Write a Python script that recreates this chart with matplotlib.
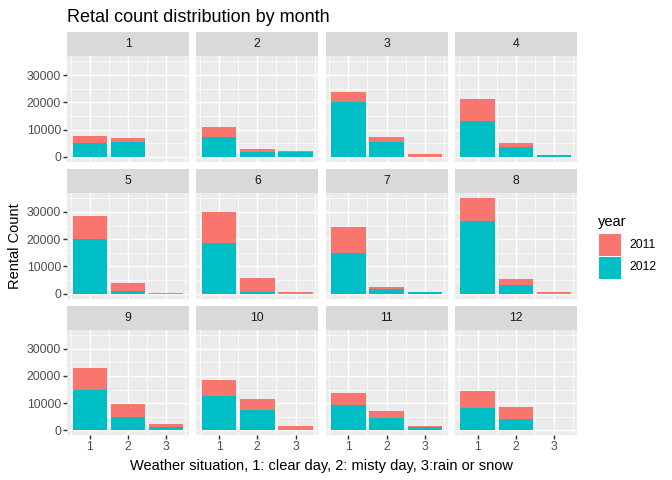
import numpy as np
import matplotlib.pyplot as plt

plt.rcParams['font.family'] = ['Liberation Sans', 'DejaVu Sans']

months = list(range(1, 13))
weather = [1, 2, 3]
years = ['2011', '2012']
colors = {'2011': '#F8766D', '2012': '#00BFC4'}

# rental counts per month (rows) and weather situation (columns)
cnt_2012 = [
    [5100, 5600, 0],
    [7300, 1950, 1950],
    [20200, 5500, 0],
    [13100, 3650, 730],
    [20200, 1100, 0],
    [18500, 730, 0],
    [14800, 1850, 490],
    [26600, 3050, 0],
    [14750, 4840, 1200],
    [12800, 7700, 0],
    [9200, 4600, 1200],
    [8200, 4100, 0],
]
cnt_2011 = [
    [2550, 1300, 0],
    [3600, 950, 350],
    [3500, 1800, 1100],
    [8000, 1450, 0],
    [8400, 2900, 400],
    [11600, 5170, 730],
    [9800, 750, 0],
    [8650, 2450, 490],
    [8250, 5060, 1100],
    [5800, 3700, 1570],
    [4700, 2400, 370],
    [6400, 4360, 0],
]

W, H = 672, 480
fig = plt.figure(figsize=(W / 100, H / 100), dpi=100)

def px(x, y, w, h):
    return [x / W, 1 - (y + h) / H, w / W, h / H]

totals = np.array(cnt_2012) + np.array(cnt_2011)
ymax = totals.max()
pad = ymax * 0.05
ylim = (-pad, ymax + pad)
xlim = (0.55 - 0.145, 3.45 + 0.145)

col_left = [67, 196.3, 325.6, 454.9]
row_top = [32, 168.8, 305.6]
pw, strip_h, ph = 122, 24, 105.7

for i, m in enumerate(months):
    r, c = divmod(i, 4)
    x0, y0 = col_left[c], row_top[r]
    # strip
    sax = fig.add_axes(px(x0, y0, pw, strip_h))
    sax.set_facecolor('#D9D9D9')
    sax.set_xticks([]); sax.set_yticks([])
    for s in sax.spines.values():
        s.set_visible(False)
    sax.text(0.5, 0.5, str(m), ha='center', va='center', fontsize=8.8,
             color='#1A1A1A', transform=sax.transAxes)
    # panel
    ax = fig.add_axes(px(x0, y0 + strip_h, pw, ph))
    ax.set_facecolor('#EBEBEB')
    for s in ax.spines.values():
        s.set_visible(False)
    ax.set_xlim(*xlim); ax.set_ylim(*ylim)
    ax.set_xticks(weather)
    ax.set_xticks([0.5, 1.5, 2.5, 3.5], minor=True)
    ax.set_yticks([0, 10000, 20000, 30000])
    ax.set_yticks([5000, 15000, 25000, 35000], minor=True)
    ax.grid(which='major', color='white', lw=1.02)
    ax.grid(which='minor', color='white', lw=0.51)
    ax.set_axisbelow(True)
    ax.tick_params(which='minor', length=0)
    ax.tick_params(which='major', length=2.6, width=1.02, color='#333333',
                   labelsize=8.8, labelcolor='#4D4D4D', pad=1.8)
    if c != 0:
        ax.tick_params(axis='y', length=0, labelleft=False)
    if r != 2:
        ax.tick_params(axis='x', length=0, labelbottom=False)
    b12 = np.array(cnt_2012[i])
    b11 = np.array(cnt_2011[i])
    ax.bar(weather, b12, width=0.9, color=colors['2012'], lw=0)
    ax.bar(weather, b11, width=0.9, bottom=b12, color=colors['2011'], lw=0)

fig.text(67 / W, 1 - 17 / H, 'Retal count distribution by month', fontsize=13,
         ha='left', va='center', color='black')
fig.text(15 / W, 1 - 246 / H, 'Rental Count', rotation=90, fontsize=10.56,
         ha='center', va='center')
fig.text(322 / W, 1 - 466 / H,
         'Weather situation, 1: clear day, 2: misty day, 3:rain or snow',
         fontsize=10.56, ha='center', va='center')

# legend
fig.text(598 / W, 1 - 222 / H, 'year', fontsize=10.56, ha='left', va='center')
for k, yr in enumerate(years):
    ky = 234 + k * 22.5
    lax = fig.add_axes(px(599, ky, 22, 22))
    lax.set_facecolor(colors[yr])
    lax.set_xticks([]); lax.set_yticks([])
    for s in lax.spines.values():
        s.set_visible(False)
    fig.text(629 / W, 1 - (ky + 11) / H, yr, fontsize=8.8, ha='left', va='center')

fig.savefig('out.png', dpi=100)
